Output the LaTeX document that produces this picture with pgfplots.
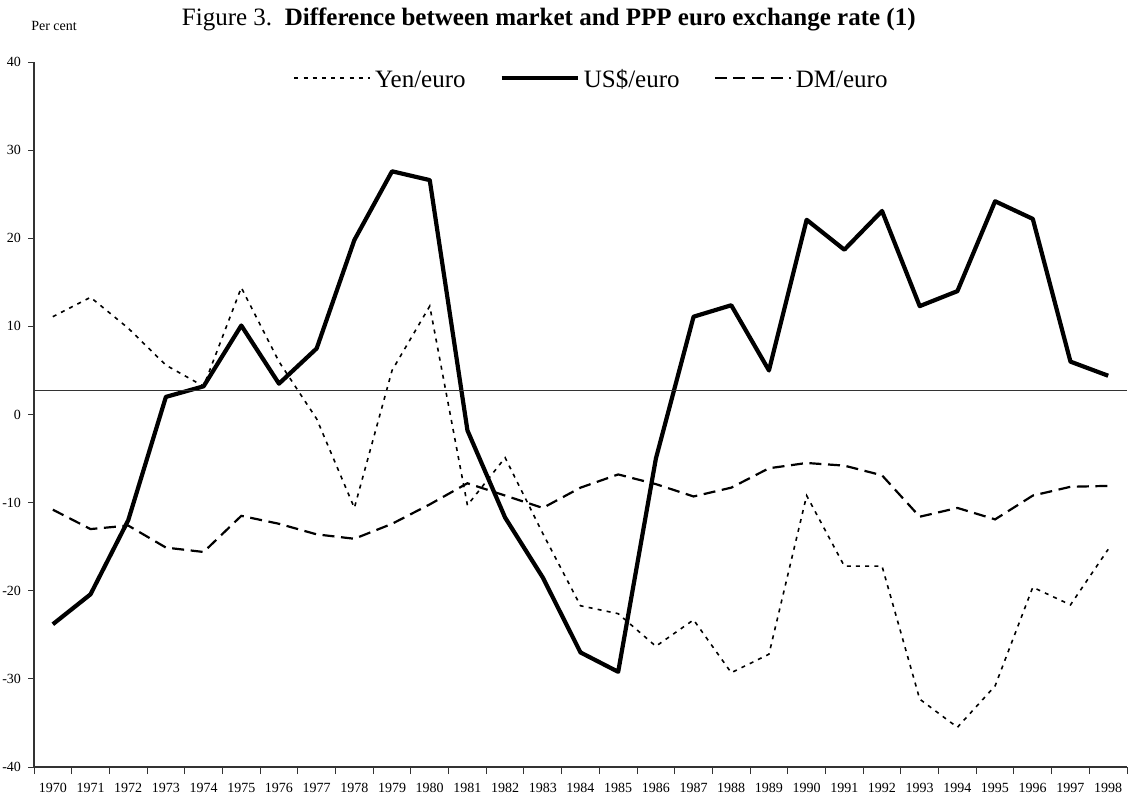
\documentclass[border=0pt]{standalone}
\usepackage{fontspec}
\setmainfont{Liberation Serif}
\usepackage{pgfplots}
\pgfplotsset{compat=1.18}

\begin{document}
\begin{tikzpicture}
\useasboundingbox (-17pt,-16.5pt) rectangle (548pt,383.5pt);
\begin{axis}[
    scale only axis,
    width=546.5pt, height=352.5pt,
    xmin=1969.5, xmax=1998.5,
    ymin=-40, ymax=40,
    axis lines*=left,
    axis line style={line width=0.6pt, black!80},
    xtick={1970,...,1998},
    minor xtick={1969.5,1970.5,...,1998.5},
    major x tick style={draw=none},
    minor x tick style={line width=0.5pt, black!80},
    ytick={-40,-30,...,40},
    y tick style={line width=0.5pt, black!80},
    tick align=outside,
    major tick length=3pt,
    minor tick length=3.5pt,
    tick label style={font=\fontsize{7}{8}\selectfont},
    x tick label style={yshift=-1.5pt},
    /pgf/number format/assume math mode=true,
    /pgf/number format/1000 sep={},
    legend style={
        at={(rel axis cs:0.511,0.977)},
        anchor=center,
        draw=none, fill=none,
        font=\fontsize{12.5}{15}\selectfont,
        /tikz/every even column/.append style={column sep=15pt},
    },
    legend columns=3,
    legend cell align=left,
    legend image code/.code={\draw[#1] (0pt,0pt) -- (38pt,0pt);},
    clip=false,
]
\addplot[black, line width=0.8pt, dash pattern=on 2pt off 2.6pt] coordinates {
    (1970,11.1)(1971,13.3)(1972,9.8)(1973,5.6)(1974,3.2)(1975,14.4)(1976,6.0)
    (1977,-0.5)(1978,-10.6)(1979,5.0)(1980,12.3)(1981,-10.3)(1982,-4.9)(1983,-13.5)
    (1984,-21.7)(1985,-22.6)(1986,-26.3)(1987,-23.3)(1988,-29.3)(1989,-27.2)
    (1990,-9.2)(1991,-17.2)(1992,-17.2)(1993,-32.3)(1994,-35.5)(1995,-30.8)
    (1996,-19.6)(1997,-21.6)(1998,-15.3)
};
\addplot[black, line width=2.1pt, line join=round] coordinates {
    (1970,-23.8)(1971,-20.4)(1972,-12.0)(1973,2.0)(1974,3.2)(1975,10.1)(1976,3.5)
    (1977,7.5)(1978,19.8)(1979,27.6)(1980,26.6)(1981,-1.8)(1982,-11.7)(1983,-18.5)
    (1984,-27.0)(1985,-29.2)(1986,-5.0)(1987,11.1)(1988,12.4)(1989,5.0)
    (1990,22.1)(1991,18.7)(1992,23.1)(1993,12.3)(1994,14.0)(1995,24.2)
    (1996,22.2)(1997,6.0)(1998,4.4)
};
\addplot[black, line width=1.1pt, dash pattern=on 6pt off 3.3pt] coordinates {
    (1970,-10.8)(1971,-13.0)(1972,-12.6)(1973,-15.1)(1974,-15.6)(1975,-11.5)(1976,-12.4)
    (1977,-13.6)(1978,-14.1)(1979,-12.4)(1980,-10.2)(1981,-7.8)(1982,-9.2)(1983,-10.6)
    (1984,-8.3)(1985,-6.8)(1986,-7.9)(1987,-9.3)(1988,-8.3)(1989,-6.1)
    (1990,-5.5)(1991,-5.8)(1992,-6.9)(1993,-11.6)(1994,-10.6)(1995,-11.9)
    (1996,-9.2)(1997,-8.2)(1998,-8.1)
};
\addplot[black!80, line width=0.6pt, forget plot] coordinates {(1969.5,2.7)(1998.5,2.7)};
\legend{\strut Yen/euro, \strut US\$/euro, \strut DM/euro}
\node[anchor=base, font=\fontsize{12.5}{15}\selectfont] at (rel axis cs:0.471,1) [yshift=18.5pt]
    {Figure 3.\ \ \textbf{Difference between market and PPP euro exchange rate (1)}};
\node[anchor=base, font=\fontsize{7}{8}\selectfont] at (rel axis cs:0,1) [xshift=10pt, yshift=16pt] {Per cent};
\end{axis}
\end{tikzpicture}
\end{document}
